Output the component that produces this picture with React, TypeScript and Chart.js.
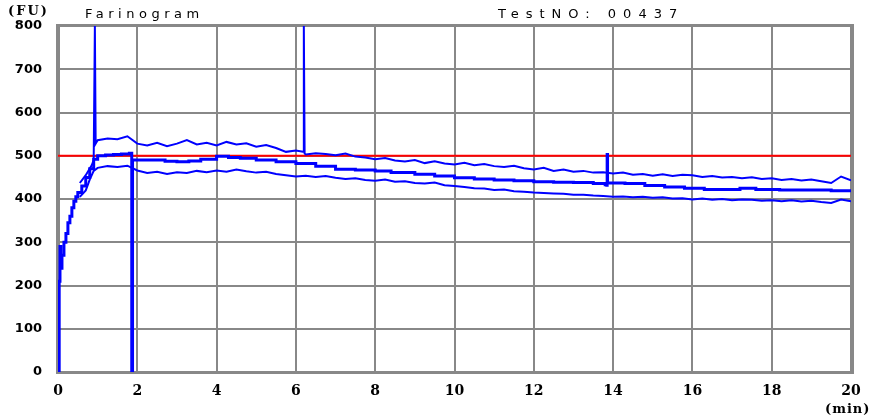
import React, { useEffect, useRef } from "react";
import { Chart, registerables } from "chart.js";

Chart.register(...registerables);

// ---- Data (minutes, FU) ----
const X_STEP = 2;
const Y_STEP = 100;

const UPPER_T = [0.55, 0.7, 0.85, 0.9, 0.93, 0.95, 1, 1.25, 1.5, 1.75, 2, 2.25, 2.5, 2.75, 3, 3.25, 3.5, 3.75, 4, 4.25, 4.5, 4.75, 5, 5.25, 5.5, 5.75, 6, 6.18, 6.2, 6.22, 6.25, 6.5, 6.75, 7, 7.25, 7.5, 7.75, 8, 8.25, 8.5, 8.75, 9, 9.25, 9.5, 9.75, 10, 10.25, 10.5, 10.75, 11, 11.25, 11.5, 11.75, 12, 12.25, 12.5, 12.75, 13, 13.25, 13.5, 13.75, 14, 14.25, 14.5, 14.75, 15, 15.25, 15.5, 15.75, 16, 16.25, 16.5, 16.75, 17, 17.25, 17.5, 17.75, 18, 18.25, 18.5, 18.75, 19, 19.25, 19.5, 19.75, 20];
const UPPER_V = [437, 455, 478, 490, 800, 528, 536, 540, 538, 545, 528, 524, 530, 522, 528, 536, 526, 530, 524, 532, 526, 529, 521, 525, 518, 509, 512, 509, 800, 505, 503, 506, 504, 501, 505, 498, 496, 492, 495, 489, 487, 490, 483, 487, 482, 480, 484, 478, 481, 476, 474, 477, 471, 468, 472, 465, 468, 463, 465, 461, 462, 459, 461, 456, 458, 454, 457, 453, 456, 455, 451, 453, 450, 451, 448, 450, 446, 448, 444, 446, 443, 445, 441, 437, 452, 443];

const MEAN_T = [0, 0.03, 0.05, 0.07, 0.1, 0.15, 0.2, 0.25, 0.3, 0.35, 0.4, 0.45, 0.5, 0.6, 0.7, 0.8, 0.9, 1, 1.2, 1.4, 1.6, 1.8, 1.85, 1.86, 1.88, 2.5, 2.7, 3, 3.3, 3.6, 4, 4.3, 4.6, 5, 5.5, 6, 6.5, 7, 7.5, 8, 8.4, 9, 9.5, 10, 10.5, 11, 11.5, 12, 12.5, 13, 13.5, 13.8, 13.84, 13.85, 13.86, 14.3, 14.8, 15.3, 15.8, 16.3, 16.8, 17.2, 17.6, 18.2, 19, 19.5, 20];
const MEAN_V = [0, 210, 290, 240, 270, 300, 320, 345, 360, 380, 395, 405, 415, 430, 450, 470, 492, 500, 502, 503, 504, 506, 506, 0, 490, 490, 487, 486, 488, 492, 499, 496, 494, 490, 486, 482, 476, 469, 467, 465, 461, 457, 453, 449, 446, 444, 442, 440, 439, 438, 436, 433, 432, 503, 437, 436, 431, 428, 425, 422, 422, 425, 422, 421, 421, 419, 418];

const LOWER_T = [0.55, 0.7, 0.8, 0.9, 1, 1.25, 1.5, 1.75, 2, 2.25, 2.5, 2.75, 3, 3.25, 3.5, 3.75, 4, 4.25, 4.5, 4.75, 5, 5.25, 5.5, 5.75, 6, 6.25, 6.5, 6.75, 7, 7.25, 7.5, 7.75, 8, 8.25, 8.5, 8.75, 9, 9.25, 9.5, 9.75, 10, 10.25, 10.5, 10.75, 11, 11.25, 11.5, 11.75, 12, 12.25, 12.5, 12.75, 13, 13.25, 13.5, 13.75, 14, 14.25, 14.5, 14.75, 15, 15.25, 15.5, 15.75, 16, 16.25, 16.5, 16.75, 17, 17.25, 17.5, 17.75, 18, 18.25, 18.5, 18.75, 19, 19.25, 19.5, 19.75, 20];
const LOWER_V = [405, 420, 445, 465, 472, 476, 474, 477, 466, 460, 463, 458, 462, 460, 465, 462, 466, 463, 468, 464, 461, 463, 458, 455, 452, 454, 451, 453, 449, 446, 448, 444, 442, 445, 440, 441, 437, 436, 438, 432, 430, 428, 425, 424, 421, 422, 418, 417, 415, 414, 413, 412, 410, 410, 408, 407, 405, 406, 404, 405, 403, 404, 401, 402, 399, 401, 398, 400, 397, 399, 398, 396, 397, 395, 397, 394, 396, 393, 391, 399, 395];

const TARGET_T = [0, 20];
const TARGET_V = [500, 500];

const Y_UNIT = "(FU)";
const X_UNIT = "(min)";
const TITLE = "Farinogram";
const TEST_NO = "TestNO: 00437";

const GRID_COLOR = "#888888";

const pts = (t: number[], v: number[]) => t.map((x, i) => ({ x, y: v[i] }));

// grid + frame painted as filled bars underneath what is already drawn
const gridPlugin = {
  id: "gridUnder",
  afterDraw(chart: any) {
    const ctx = chart.ctx as CanvasRenderingContext2D;
    const a = chart.chartArea;
    const xs = chart.scales.x;
    const ys = chart.scales.y;
    ctx.save();
    ctx.globalCompositeOperation = "destination-over";
    ctx.fillStyle = GRID_COLOR;
    xs.ticks.forEach((t: any) => {
      const px = Math.round(xs.getPixelForValue(t.value));
      ctx.fillRect(px - 1, a.top, 2, a.bottom - a.top);
    });
    ys.ticks.forEach((t: any) => {
      const py = Math.round(ys.getPixelForValue(t.value));
      ctx.fillRect(a.left, py - 1, a.right - a.left, 2);
    });
    const L = Math.round(a.left), T = Math.round(a.top), R = Math.round(a.right), B = Math.round(a.bottom);
    ctx.fillRect(L - 2, T - 2, R - L + 5, 3);
    ctx.fillRect(L - 2, B - 1, R - L + 5, 3);
    ctx.fillRect(L - 2, T - 2, 3, B - T + 4);
    ctx.fillRect(R - 1, T - 2, 4, B - T + 4);
    ctx.restore();
  },
};

const textPlugin = {
  id: "texts",
  afterDraw(chart: any) {
    const ctx = chart.ctx as CanvasRenderingContext2D;
    ctx.save();
    ctx.globalCompositeOperation = "source-over";
    ctx.fillStyle = "#000";
    ctx.textBaseline = "middle";
    ctx.textAlign = "left";
    (ctx as any).letterSpacing = "2px";
    ctx.font = "bold 13px 'DejaVu Serif'";
    ctx.fillText(Y_UNIT, 8, 12);
    (ctx as any).letterSpacing = "1px";
    ctx.fillText(X_UNIT, 825, 410);
    (ctx as any).letterSpacing = "4.5px";
    ctx.font = "13px 'DejaVu Sans'";
    ctx.fillText(TITLE, 85, 15);
    (ctx as any).letterSpacing = "7px";
    ctx.fillText(TEST_NO, 498, 15);
    (ctx as any).letterSpacing = "0px";
    ctx.restore();
  },
};

export default function App() {
  const ref = useRef<HTMLCanvasElement | null>(null);
  useEffect(() => {
    document.body.style.margin = "0";
    if (!ref.current) return;
    const chart = new Chart(ref.current, {
      type: "line",
      data: {
        datasets: [
          { data: pts(MEAN_T, MEAN_V), borderColor: "#0000ff", borderWidth: 3, pointRadius: 0, stepped: true },
          { data: pts(UPPER_T, UPPER_V), borderColor: "#0000ff", borderWidth: 2, pointRadius: 0 },
          { data: pts(LOWER_T, LOWER_V), borderColor: "#0000ff", borderWidth: 2, pointRadius: 0 },
          { data: pts(TARGET_T, TARGET_V), borderColor: "#ff0000", borderWidth: 2, pointRadius: 0 },
        ] as any,
      },
      options: {
        animation: false,
        responsive: false,
        layout: { padding: { top: 26, right: 24 } },
        plugins: { legend: { display: false } },
        scales: {
          x: {
            type: "linear",
            min: 0,
            max: 20,
            afterFit: (s: any) => { s.height = 47; },
            ticks: {
              stepSize: X_STEP,
              color: "#000",
              font: { family: "'DejaVu Serif'", size: 14, weight: "bold" },
            },
            grid: { color: GRID_COLOR, lineWidth: 2, tickColor: "rgba(0,0,0,0)", tickLength: 8 },
            border: { color: GRID_COLOR, width: 3 },
          },
          y: {
            type: "linear",
            min: 0,
            max: 800,
            afterFit: (s: any) => { s.width = 58; },
            ticks: {
              stepSize: Y_STEP,
              color: "#000",
              font: { family: "'DejaVu Sans'", size: 13, weight: "bold" },
            },
            grid: { color: GRID_COLOR, lineWidth: 2, tickColor: "rgba(0,0,0,0)", tickLength: 13 },
            border: { color: GRID_COLOR, width: 3 },
          },
        },
      } as any,
      plugins: [gridPlugin, textPlugin],
    });
    return () => chart.destroy();
  }, []);
  return (
    <div style={{ width: 875, height: 419 }}>
      <canvas ref={ref} width={875} height={419} style={{ display: "block", width: 875, height: 419 }} />
    </div>
  );
}
